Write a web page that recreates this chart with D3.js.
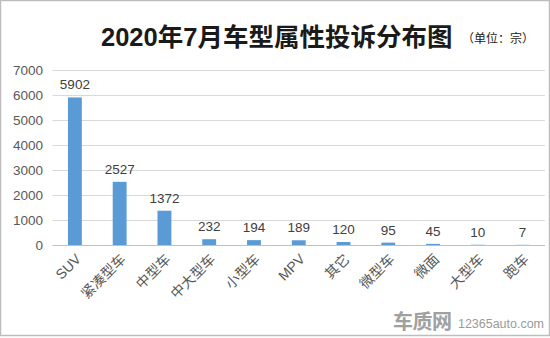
<!DOCTYPE html>
<html><head><meta charset="utf-8">
<script src="https://cdn.jsdelivr.net/npm/d3@7"></script>
<style>html,body{margin:0;padding:0;background:#fff;}svg{display:block;}</style>
</head><body>
<script>
const categories = ["SUV","紧凑型车","中型车","中大型车","小型车","MPV","其它","微型车","微面","大型车","跑车"];
const values = [5902,2527,1372,232,194,189,120,95,45,10,7];
const yTicks = [0,1000,2000,3000,4000,5000,6000,7000];
const titleText = "2020年7月车型属性投诉分布图";
const unitText = "（单位：宗）";

const W = 550, H = 338;
const svg = d3.select("body").append("svg").attr("width", W).attr("height", H);
svg.append("rect").attr("x",0.5).attr("y",0.5).attr("width",W-1).attr("height",H-3)
  .attr("fill","#fff").attr("stroke","#bdbdbd").attr("stroke-width",1.5);

const x = d3.scaleBand().domain(categories).range([52.5, 545]).paddingInner(0.69).paddingOuter(0.345);
const y = d3.scaleLinear().domain([0,7000]).range([245, 70]);
const font = "'Liberation Sans', Arial, 'Noto Sans CJK SC', sans-serif";

// gridlines
svg.append("g").selectAll("line").data(yTicks).join("line")
  .attr("x1",52.5).attr("x2",545).attr("y1",d=>Math.round(y(d))+0.5).attr("y2",d=>Math.round(y(d))+0.5)
  .attr("stroke",d=>d===0?"#bfbfbf":"#d9d9d9").attr("stroke-width",1);

// y axis labels
const yAxis = d3.axisLeft(y).tickValues(yTicks).tickSize(0).tickPadding(0).tickFormat(d3.format("d"));
const ya = svg.append("g").attr("transform","translate(43,0)").call(yAxis);
ya.select(".domain").remove();
ya.selectAll("text").attr("font-family",font).attr("font-size",13.5).attr("fill","#595959");

// bars
svg.append("g").selectAll("rect").data(values).join("rect")
  .attr("x",(d,i)=>x(categories[i])).attr("width",x.bandwidth())
  .attr("y",d=>y(d)).attr("height",d=>y(0)-y(d)).attr("fill","#5b9bd5");

// value labels
svg.append("g").selectAll("text").data(values).join("text")
  .attr("x",(d,i)=>x(categories[i])+x.bandwidth()/2).attr("y",d=>y(d)-8)
  .attr("text-anchor","middle").attr("font-family",font).attr("font-size",13.5).attr("fill","#404040")
  .text(d=>d);

// x labels rotated
const xa = svg.append("g").attr("transform","translate(0,245)")
  .call(d3.axisBottom(x).tickSize(0).tickPadding(0));
xa.select(".domain").remove();
xa.selectAll("text").attr("font-family",font).attr("font-size",14).attr("fill","#595959")
  .attr("text-anchor","end").attr("dy",0)
  .attr("transform","translate(7,15) rotate(-45)");

// title
svg.append("text").attr("x",101).attr("y",46).attr("font-family",font).attr("font-weight","bold")
  .attr("font-size",25.5).attr("fill","#1a1a1a").text(titleText);
svg.append("text").attr("x",462).attr("y",43).attr("font-family",font)
  .attr("font-size",12).attr("fill","#1a1a1a").text(unitText);

// watermark
svg.append("text").attr("x",393).attr("y",329).attr("font-family",font).attr("font-weight","bold")
  .attr("font-size",20).attr("fill","#a0a0a0").attr("textLength",59).text("车质网");
svg.append("text").attr("x",458).attr("y",328).attr("font-family",font)
  .attr("font-size",12.5).attr("fill","#9a9a9a").attr("textLength",86).text("12365auto.com");
</script>
</body></html>
